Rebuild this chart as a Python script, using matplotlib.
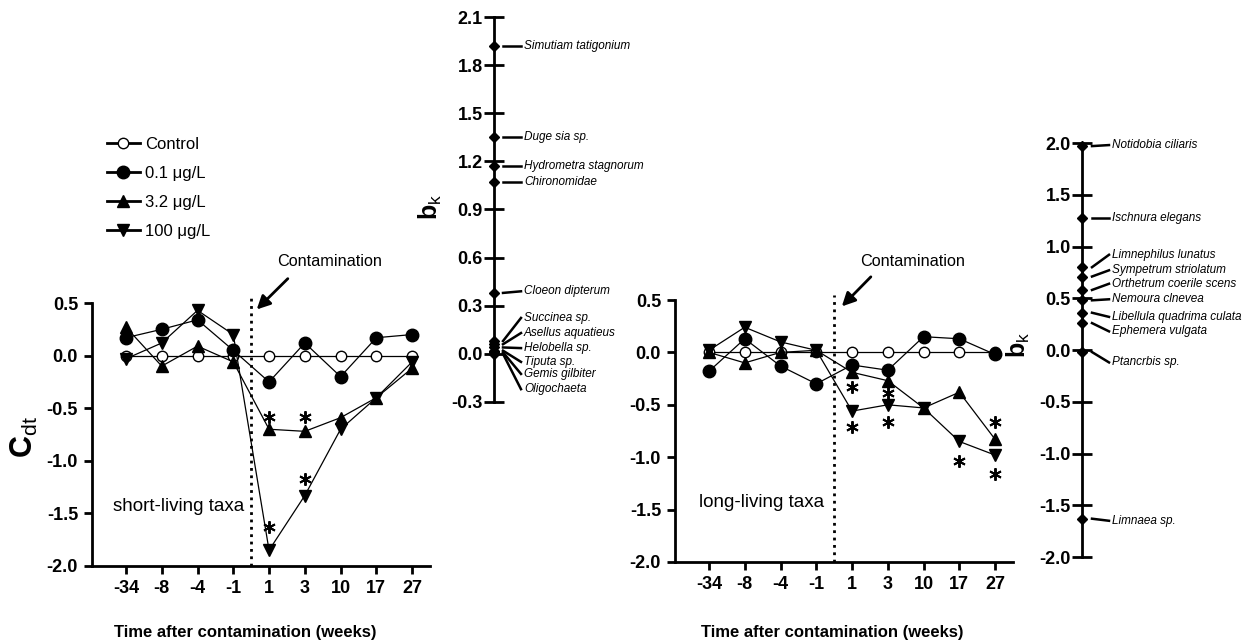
import numpy as np
import matplotlib
matplotlib.use('Agg')
import matplotlib.pyplot as plt

plt.rcParams['font.family'] = ['Liberation Sans', 'DejaVu Sans']
plt.rcParams['mathtext.fontset'] = 'custom'
plt.rcParams['mathtext.rm'] = 'Liberation Sans'
plt.rcParams['mathtext.bf'] = 'Liberation Sans:bold'

# Datos
weeks = ['-34', '-8', '-4', '-1', '1', '3', '10', '17', '27']
series_names = ['Control', '0.1 \u03bcg/L', '3.2 \u03bcg/L', '100 \u03bcg/L']

short_control = [0, 0, 0, 0, 0, 0, 0, 0, 0]
short_01 = [0.17, 0.25, 0.34, 0.05, -0.25, 0.12, -0.20, 0.17, 0.20]
short_32 = [0.27, -0.10, 0.09, -0.06, -0.70, -0.72, -0.59, -0.40, -0.12]
short_100 = [-0.03, 0.12, 0.43, 0.20, -1.85, -1.33, -0.70, -0.40, -0.06]
short_star_x = [4, 5, 5, 4]
short_star_y = [-0.58, -0.58, -1.17, -1.63]

long_control = [0, 0, 0, 0, 0, 0, 0, 0, 0]
long_01 = [-0.18, 0.13, -0.13, -0.30, -0.12, -0.17, 0.15, 0.13, -0.02]
long_32 = [0.00, -0.10, 0.00, 0.02, -0.19, -0.27, -0.53, -0.38, -0.83]
long_100 = [0.02, 0.24, 0.10, 0.02, -0.56, -0.50, -0.53, -0.85, -0.98]
long_star_x = [4, 4, 5, 5, 7, 8, 8]
long_star_y = [-0.33, -0.71, -0.39, -0.66, -1.04, -0.66, -1.16]

# b_k de cada taxón
short_taxa = ['Simutiam tatigonium', 'Duge sia sp.', 'Hydrometra stagnorum', 'Chironomidae',
              'Cloeon dipterum', 'Succinea sp.', 'Asellus aquatieus', 'Helobella sp.',
              'Tiputa sp.', 'Gemis gilbiter', 'Oligochaeta']
short_bk = [1.92, 1.35, 1.17, 1.07, 0.38, 0.08, 0.06, 0.04, 0.02, 0.01, 0.0]
short_label_pos = [1.92, 1.35, 1.17, 1.07, 0.39, 0.224, 0.13, 0.036, -0.05, -0.125, -0.22]

long_taxa = ['Notidobia ciliaris', 'Ischnura elegans', 'Limnephilus lunatus', 'Sympetrum striolatum',
             'Orthetrum coerile scens', 'Nemoura clnevea', 'Libellula quadrima culata',
             'Ephemera vulgata', 'Ptancrbis sp.', 'Limnaea sp.']
long_bk = [1.97, 1.28, 0.80, 0.71, 0.58, 0.48, 0.36, 0.26, -0.02, -1.63]
long_label_pos = [1.98, 1.28, 0.92, 0.77, 0.64, 0.49, 0.32, 0.18, -0.12, -1.65]

W, H = 1244, 642
fig = plt.figure(figsize=(W / 100, H / 100), dpi=100)

styles = [dict(marker='o', mfc='white', ms=7.5),
          dict(marker='o', mfc='black', ms=9),
          dict(marker='^', mfc='black', ms=8.5),
          dict(marker='v', mfc='black', ms=8.5)]


def line_panel(rect, data, star_x, star_y, text, text_xy, arrow_tail, arrow_head):
    ax = fig.add_axes(rect)
    x = np.arange(len(weeks))
    handles = []
    for vals, st, name in zip(data, styles, series_names):
        h, = ax.plot(x, vals, color='black', lw=0.9, mec='black', mew=1.0,
                     clip_on=False, label=name, **st)
        handles.append(h)
    ax.plot(star_x, star_y, ls='none', marker=(6, 2, 0), ms=9, mew=1.4,
            color='black', clip_on=False)
    ax.plot([3.5, 3.5], [-2.0, 0.55], ls=':', color='black', lw=2, clip_on=False)
    ax.text(text_xy[0], text_xy[1], 'Contamination', fontsize=11.7, ha='center', va='center')
    ax.annotate('', xy=arrow_head, xytext=arrow_tail,
                arrowprops=dict(arrowstyle='-|>', color='black', lw=2, mutation_scale=20),
                annotation_clip=False)
    ax.text(1.47, -1.43, text, fontsize=13.5, ha='center', va='center')
    ax.set_xlim(-0.95, 8.5)
    ax.set_ylim(-2.0, 0.5)
    ax.set_xticks(x)
    ax.set_xticklabels(weeks)
    ax.set_yticks([-2.0, -1.5, -1.0, -0.5, 0.0, 0.5])
    ax.set_yticklabels(['%.1f' % v for v in [-2.0, -1.5, -1.0, -0.5, 0.0, 0.5]])
    ax.spines['top'].set_visible(False)
    ax.spines['right'].set_visible(False)
    for s in ['left', 'bottom']:
        ax.spines[s].set_linewidth(2)
    ax.tick_params(direction='out', length=6, width=2, labelsize=13, pad=4)
    for lab in ax.get_xticklabels() + ax.get_yticklabels():
        lab.set_fontweight('bold')
    ax.patch.set_visible(False)
    return ax, handles


def bk_panel(rect, width_px, ylim, ticks, values, taxa, label_pos, lead):
    ax = fig.add_axes(rect)
    ax.set_xlim(0, width_px)
    ax.set_ylim(*ylim)
    for s in ['top', 'right', 'bottom']:
        ax.spines[s].set_visible(False)
    ax.spines['left'].set_linewidth(2)
    ax.set_xticks([])
    ax.set_yticks(ticks)
    ax.set_yticklabels(['%.1f' % v for v in ticks])
    ax.tick_params(axis='y', direction='inout', length=14, width=2, labelsize=13, pad=1)
    for lab in ax.get_yticklabels():
        lab.set_fontweight('bold')
    ax.plot(np.zeros(len(values)), values, ls='none', marker='D', ms=5.5,
            color='black', clip_on=False)
    for v, name, lp in zip(values, taxa, label_pos):
        ax.plot([lead[0], lead[1]], [v, lp], color='black', lw=1.8, clip_on=False)
        ax.text(lead[1] + 3, lp, name, fontsize=8.5, style='italic', ha='left', va='center')
    ax.patch.set_visible(False)
    return ax


ax1, handles = line_panel([92 / W, (H - 566) / H, 338 / W, 263 / H],
                          [short_control, short_01, short_32, short_100],
                          short_star_x, short_star_y, 'short-living taxa',
                          (5.7, 0.895), (4.58, 0.75), (3.6, 0.42))
fig.text(24 / W, 1 - 437 / H, r'$\mathbf{C}_{\mathrm{dt}}$', fontsize=22,
         rotation=90, ha='center', va='center')

ax2, _ = line_panel([675 / W, (H - 562) / H, 338 / W, 262 / H],
                    [long_control, long_01, long_32, long_100],
                    long_star_x, long_star_y, 'long-living taxa',
                    (5.7, 0.87), (4.58, 0.74), (3.66, 0.42))

fig.text(245 / W, 1 - 633 / H, 'Time after contamination (weeks)', fontsize=12,
         fontweight='bold', ha='center', va='center')
fig.text(832 / W, 1 - 633 / H, 'Time after contamination (weeks)', fontsize=12,
         fontweight='bold', ha='center', va='center')

leg = fig.legend(handles, series_names, loc='upper left', bbox_to_anchor=(100 / W, 1 - 130 / H),
                 frameon=False, fontsize=12, handlelength=2.0, handletextpad=0.3,
                 labelspacing=0.85, borderaxespad=0)
for l in leg.get_lines():
    l.set_linewidth(2)

bk_panel([494 / W, (H - 402) / H, 150 / W, 385 / H], 150, (-0.3, 2.1),
         [-0.3, 0.0, 0.3, 0.6, 0.9, 1.2, 1.5, 1.8, 2.1],
         short_bk, short_taxa, short_label_pos, (9, 27))
fig.text(430 / W, 1 - 207 / H, r'$\mathbf{b}_{\mathrm{k}}$', fontsize=18,
         rotation=90, ha='center', va='center')

bk_panel([1082 / W, (H - 557) / H, 160 / W, 414 / H], 160, (-2.0, 2.0),
         [-2.0, -1.5, -1.0, -0.5, 0.0, 0.5, 1.0, 1.5, 2.0],
         long_bk, long_taxa, long_label_pos, (10, 27))
fig.text(1018 / W, 1 - 345 / H, r'$\mathbf{b}_{\mathrm{k}}$', fontsize=18,
         rotation=90, ha='center', va='center')

plt.savefig('out.png', dpi=100)
